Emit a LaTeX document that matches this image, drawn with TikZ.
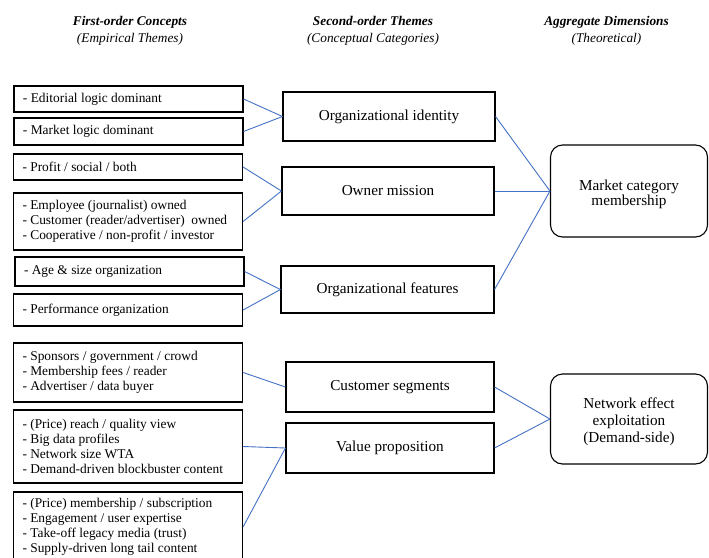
\documentclass[tikz,border=0pt]{standalone}
\usepackage{fontspec}
\setmainfont{Liberation Serif}
\usepackage{xcolor}
\usepackage{tikz}
\usetikzlibrary{positioning}
\definecolor{LBlue}{HTML}{4472C4}

\begin{document}
\begin{tikzpicture}[x=1pt,y=-1pt,
  concept/.style={draw,line width=1.1pt,text width=211pt,inner xsep=9pt,
    inner ysep=0pt,align=flush left,font=\fontsize{13.4}{15}\selectfont},
  theme/.style={draw,line width=1.1pt,minimum height=49pt,inner sep=0pt,
    align=center,font=\fontsize{15.2}{16}\selectfont},
  dimbox/.style={draw,line width=1.1pt,rounded corners=12pt,minimum width=157pt,
    inner sep=0pt,align=center,font=\fontsize{15.2}{15.5}\selectfont},
  header/.style={align=center,font=\fontsize{13.3}{17}\selectfont},
  a/.style={LBlue,line width=0.9pt}
]
  \clip (0,0) rectangle (709,557);
  % column headers
  \node[header] (hfirst) at (130,30.5) {\textbf{\textit{First-order Concepts}}\\\textit{(Empirical Themes)}};
  \node[header] (hsecond) at (373,30.5) {\textbf{\textit{Second-order Themes}}\\\textit{(Conceptual Categories)}};
  \node[header] (hagg) at (606.5,30.5) {\textbf{\textit{Aggregate Dimensions}}\\\textit{(Theoretical)}};
  % first-order concepts
  \node[concept,minimum height=26pt] (edit) at (128.5,99) {- Editorial logic dominant};
  \node[concept,minimum height=27pt] (market) at (128.5,131.5) {- Market logic dominant};
  \node[concept,minimum height=26pt] (profit) at (128,167) {- Profit / social / both};
  \node[concept,minimum height=57pt] (owned) at (128,221.5) {- Employee (journalist) owned\\
    - Customer (reader/advertiser)\ \ owned\\- Cooperative / non-profit\ / investor};
  \node[concept,minimum height=29pt] (age) at (129.5,271.5) {- Age \& size organization};
  \node[concept,minimum height=32pt] (perf) at (128,310) {- Performance organization};
  \node[concept,minimum height=59pt] (spons) at (128,372.5) {- Sponsors / government\ / crowd\\
    - Membership fees / reader\\- Advertiser\ / data buyer};
  \node[concept,minimum height=73pt] (reach) at (128,446.5) {- (Price) reach / quality view\\
    - Big data profiles\\- Network size WTA\\- Demand-driven blockbuster content};
  \node[concept,minimum height=70pt] (member) at (128,527) {- (Price) membership / subscription\\
    - Engagement / user expertise\\- Take-off legacy media (trust)\\- Supply-driven long tail content};
  % second-order themes
  \node[theme,minimum width=212pt] (ident) at (389,116.5) {Organizational identity};
  \node[theme,minimum width=212pt,minimum height=48pt] (mission) at (388,191) {Owner mission};
  \node[theme,minimum width=213pt,minimum height=47pt] (feat) at (387.5,289.5) {Organizational features};
  \node[theme,minimum width=208pt,minimum height=50pt] (segm) at (390,387) {Customer segments};
  \node[theme,minimum width=208pt,minimum height=50pt] (valprop) at (390,448) {Value proposition};
  % aggregate dimensions
  \node[dimbox,minimum height=92pt,text height=29pt,text depth=0pt] (mcm) at (629,191) {Market category\\membership};
  \node[dimbox,minimum height=90pt,text height=46pt,text depth=0pt,
    font=\fontsize{15.2}{17}\selectfont] (neteff) at (629,419) {Network effect\\exploitation\\(Demand-side)};
  % links
  \draw[a] (edit.east) -- (ident.west);
  \draw[a] (market.east) -- (ident.west);
  \draw[a] (profit.east) -- (mission.west);
  \draw[a] (owned.east) -- (mission.west);
  \draw[a] (age.east) -- (feat.west);
  \draw[a] (perf.east) -- (feat.west);
  \draw[a] (spons.east) -- (segm.west);
  \draw[a] (reach.east) -- (valprop.west);
  \draw[a] (member.east) -- (valprop.west);
  \draw[a] (ident.east) -- (mcm.west);
  \draw[a] (mission.east) -- (mcm.west);
  \draw[a] (feat.east) -- (mcm.west);
  \draw[a] (segm.east) -- (neteff.west);
  \draw[a] (valprop.east) -- (neteff.west);
\end{tikzpicture}
\end{document}
